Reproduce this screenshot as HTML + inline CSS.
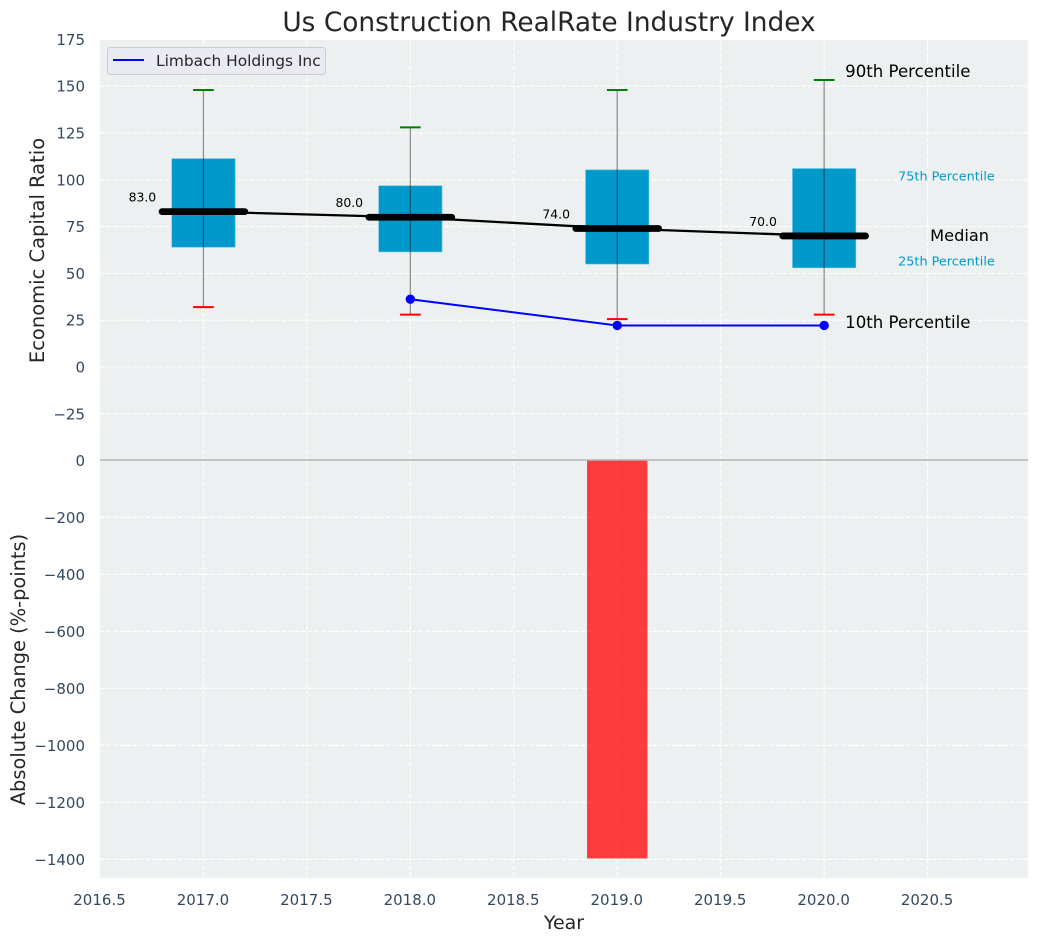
<!DOCTYPE html>
<html lang="en">
<head>
<meta charset="utf-8">
<title>Us Construction RealRate Industry Index</title>
<style>
html,body{margin:0;padding:0;background:#fff;width:1039px;height:942px;overflow:hidden}
svg{display:block;font-family:"DejaVu Sans","Liberation Sans",sans-serif}
</style>
</head>
<body>
<svg id="chart" xmlns="http://www.w3.org/2000/svg" width="1039" height="942" viewBox="0 0 1039 942">
  <rect x="100" y="40" width="928" height="420" fill="#ecf0f1"/>
  <rect x="100" y="460" width="928" height="418" fill="#ecf0f1"/>
  <g id="grid"></g>
  <g id="marks"></g>
  <g id="ticks"></g>
  <line x1="100" x2="1028" y1="460" y2="460" stroke="#b4b4b4" stroke-width="1.6"/>
  <text x="549" y="31" text-anchor="middle" font-size="26.4" fill="#262626">Us Construction RealRate Industry Index</text>
  <text transform="translate(44,250.5) rotate(-90)" text-anchor="middle" font-size="19.5" fill="#262626">Economic Capital Ratio</text>
  <text transform="translate(25,669.5) rotate(-90)" text-anchor="middle" font-size="19.4" fill="#262626">Absolute Change (%-points)</text>
  <text x="564" y="929" text-anchor="middle" font-size="19" fill="#262626">Year</text>
  <g>
    <rect x="107.5" y="47.5" width="218" height="27" rx="3" fill="#eaeaf2" stroke="#cccccc" stroke-width="1"/>
    <line x1="113" x2="144" y1="60" y2="60" stroke="#0000ff" stroke-width="2"/>
    <text x="156" y="66" font-size="15.4" fill="#262626">Limbach Holdings Inc</text>
  </g>
</svg>
<script>
// ---- Data ----
const years = [2017, 2018, 2019, 2020];
const p90 = [148, 128, 148, 153.3];
const p75 = [111.3, 96.8, 105.3, 106];
const medians = [83, 80, 74, 70];
const p25 = [64, 61.5, 55, 53];
const p10 = [32, 28, 25.6, 28];
const medianLabels = ["83.0", "80.0", "74.0", "70.0"];
const companyYears = [2018, 2019, 2020];
const companyValues = [36.2, 22.2, 22.2];
const changeYears = [2019];
const changeValues = [-1397];
const xTicks = [2016.5, 2017, 2017.5, 2018, 2018.5, 2019, 2019.5, 2020, 2020.5];
const upperTicks = [175, 150, 125, 100, 75, 50, 25, 0, -25];
const lowerTicks = [0, -200, -400, -600, -800, -1000, -1200, -1400];

// ---- Axis functions ----
const NS = 'http://www.w3.org/2000/svg';
function x(v){ return 100 + (v - 2016.5) * 206.9; }
function yU(v){ return 367 - v * 1.872; }
function yL(v){ return 460.3 - v * 0.285; }
function el(parent, tag, attrs, txt){
  const e = document.createElementNS(NS, tag);
  for (const k in attrs) e.setAttribute(k, attrs[k]);
  if (txt !== undefined) e.textContent = txt;
  parent.appendChild(e);
  return e;
}
function fmt(v){ return String(v).replace('-', '\u2212'); }
const gridG = document.getElementById('grid');
const marksG = document.getElementById('marks');
const ticksG = document.getElementById('ticks');
const gridStyle = {stroke:'#ffffff','stroke-width':1.1,'stroke-dasharray':'4.5 2',fill:'none'};

// ---- Grid and ticks ----
xTicks.forEach(function(t){
  if (t > 2016.5) {
    const a = el(gridG,'line',Object.assign({x1:x(t),x2:x(t),y1:40,y2:878},gridStyle));
    
    
  }
  const l = el(ticksG,'text',{x:x(t)-0.5,y:905,'text-anchor':'middle','font-size':15,fill:'#34495e'},t.toFixed(1));
  
  
});
upperTicks.forEach(function(t){
  if (t < 175) {
    const a = el(gridG,'line',Object.assign({x1:100,x2:1028,y1:yU(t),y2:yU(t)},gridStyle));
    
    
  }
  const l = el(ticksG,'text',{x:85,y:yU(t)+5.5,'text-anchor':'end','font-size':15,fill:'#34495e'},fmt(t));
  
  
});
lowerTicks.forEach(function(t){
  if (t < 0) {
    const a = el(gridG,'line',Object.assign({x1:100,x2:1028,y1:yL(t),y2:yL(t)},gridStyle));
    
    
  }
  const l = el(ticksG,'text',{x:85,y:yL(t)+5.5,'text-anchor':'end','font-size':15,fill:'#34495e'},fmt(t));
  
  
});

// ---- Interquartile boxes ----
years.forEach(function(yr,i){
  const box = el(marksG,'rect',{x:x(yr-0.153),width:x(yr+0.153)-x(yr-0.153),y:yU(p75[i]),height:yU(p25[i])-yU(p75[i]),fill:'#0099cc',stroke:'#5bbfe0','stroke-width':0.6});
  
  
});

// ---- Median trend line ----
const medLine = el(marksG,'polyline',{points:years.map(function(yr,i){return x(yr)+','+yU(medians[i]);}).join(' '),fill:'none',stroke:'#000','stroke-width':2.3});



years.forEach(function(yr,i){
  const w = el(marksG,'line',{x1:x(yr),x2:x(yr),y1:yU(p90[i]),y2:yU(p10[i]),stroke:'#000','stroke-opacity':0.42,'stroke-width':1.3});
  
  
  const capT = el(marksG,'line',{x1:x(yr-0.05),x2:x(yr+0.05),y1:yU(p90[i]),y2:yU(p90[i]),stroke:'#008000','stroke-width':2});
  
  
  const capB = el(marksG,'line',{x1:x(yr-0.05),x2:x(yr+0.05),y1:yU(p10[i]),y2:yU(p10[i]),stroke:'#ff0000','stroke-width':2});
  
  
  const med = el(marksG,'line',{x1:x(yr-0.2),x2:x(yr+0.2),y1:yU(medians[i]),y2:yU(medians[i]),stroke:'#000','stroke-width':6.8,'stroke-linecap':'round'});
  
  
  const lab = el(marksG,'text',{x:x(yr-0.3)+1,y:yU(medians[i])-10,'text-anchor':'middle','font-size':12.4,fill:'#000'},medianLabels[i]);
  
  
});

// ---- Company series ----
const compLine = el(marksG,'polyline',{points:companyYears.map(function(yr,i){return x(yr)+','+yU(companyValues[i]);}).join(' '),fill:'none',stroke:'#0000ff','stroke-width':2});


companyYears.forEach(function(yr,i){
  const pt = el(marksG,'circle',{cx:x(yr),cy:yU(companyValues[i]),r:4.7,fill:'#0000ff'});
  
  
});

// ---- Absolute change bars ----
changeYears.forEach(function(yr,i){
  const b = el(marksG,'rect',{x:x(yr-0.146),width:x(yr+0.146)-x(yr-0.146),y:yL(0),height:yL(changeValues[i])-yL(0),fill:'#ff0000','fill-opacity':0.75});
  
  
});

// ---- Percentile annotations (anchored to the last year) ----
const last = years.length - 1;
const tx = x(years[last]);
const a90 = el(marksG,'text',{x:tx+21,y:yU(p90[last])-3,'font-size':16.6,fill:'#000'},'90th Percentile');


const a10 = el(marksG,'text',{x:tx+21,y:yU(companyValues[companyValues.length-1])+2.5,'font-size':16.6,fill:'#000'},'10th Percentile');


const a50 = el(marksG,'text',{x:tx+106,y:yU(medians[last])+5,'font-size':16.2,fill:'#000'},'Median');


const a75 = el(marksG,'text',{x:tx+74,y:yU(p75[last])+12,'font-size':12.8,fill:'#0099cc'},'75th Percentile');


const a25 = el(marksG,'text',{x:tx+74,y:yU(p25[last])-2.5,'font-size':12.8,fill:'#0099cc'},'25th Percentile');


</script>
</body>
</html>
